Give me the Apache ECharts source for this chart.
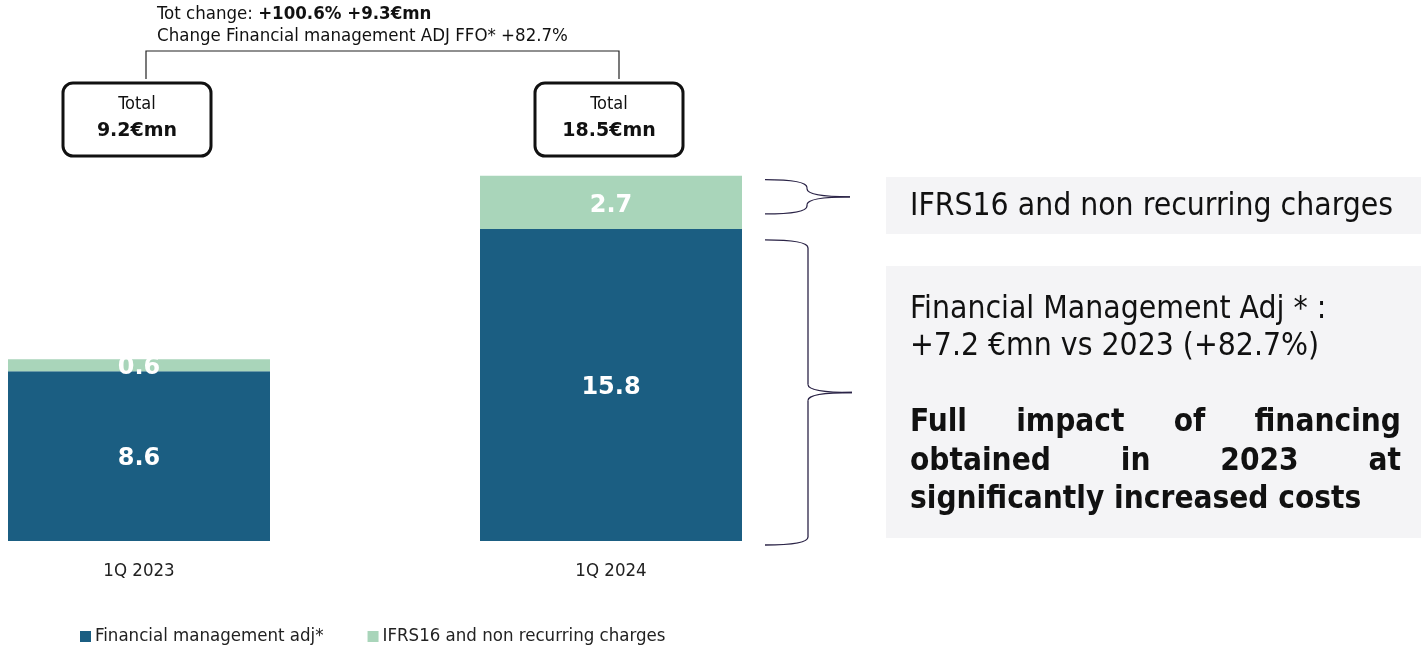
<!DOCTYPE html>
<html>
<head>
<meta charset="utf-8">
<script src="https://cdn.jsdelivr.net/npm/echarts@6/dist/echarts.min.js"></script>
<style>
  html, body { margin: 0; padding: 0; background: #ffffff; }
  #chart { width: 1421px; height: 645px; }
</style>
</head>
<body>
<div id="chart"></div>
<script>
// Quarterly financial charges, €mn
const categories = ['1Q 2023', '1Q 2024'];
const seriesNames = ['Financial management adj*', 'IFRS16 and non recurring charges'];
const finMgmtAdj = [8.6, 15.8];
const ifrs16Charges = [0.6, 2.7];

// Header and commentary text
const headerLine1 = ['Tot change: ', '+100.6% +9.3€mn'];
const headerLine2 = 'Change Financial management ADJ FFO* +82.7%';
const ifrsNote = 'IFRS16 and non recurring charges';
const finNote = ['Financial Management Adj * :', '+7.2 €mn vs 2023 (+82.7%)'];
const finNoteBold = ['Full impact of financing', 'obtained in 2023 at', 'significantly increased costs'];

const COLORS = ['#1b5e82', '#a9d5ba'];
const FONT = "'DejaVu Sans Condensed', 'DejaVu Sans', sans-serif";
const FONT_BOLD = "'DejaVu Sans', sans-serif";

const chart = echarts.init(document.getElementById('chart'), null, { renderer: 'canvas' });

const barLabel = {
  show: true,
  position: 'inside',
  offset: [0, 3],
  color: '#ffffff',
  fontFamily: FONT_BOLD,
  fontWeight: 'bold',
  fontSize: 24,
  formatter: p => p.value.toFixed(1)
};

chart.setOption({
  animation: false,
  backgroundColor: '#ffffff',
  grid: { left: 139, right: 810, top: 146, bottom: 104 },
  legend: {
    left: 75, top: 622,
    itemWidth: 11, itemHeight: 11, itemGap: 44,
    icon: 'rect',
    textStyle: { fontFamily: FONT, fontSize: 18.5, color: '#222222', padding: [0, 0, 0, -1] },
    data: seriesNames
  },
  xAxis: {
    type: 'category',
    data: categories,
    boundaryGap: false,
    axisLine: { show: false },
    axisTick: { show: false },
    axisLabel: { fontFamily: FONT, fontSize: 18.5, color: '#222222', margin: 21 }
  },
  yAxis: { type: 'value', min: 0, max: 20, show: false, splitLine: { show: false } },
  series: [
    { name: seriesNames[0], type: 'bar', stack: 'total', barWidth: 262, clip: false,
      itemStyle: { color: COLORS[0] }, label: barLabel, data: finMgmtAdj },
    { name: seriesNames[1], type: 'bar', stack: 'total', barWidth: 262, clip: false,
      itemStyle: { color: COLORS[1] }, label: barLabel, data: ifrs16Charges }
  ]
});

// Annotation layer positioned from the axes
const xs = categories.map(c => chart.convertToPixel({ xAxisIndex: 0 }, c));
const yOf = v => chart.convertToPixel({ yAxisIndex: 0 }, v);
const totals = finMgmtAdj.map((v, i) => +(v + ifrs16Charges[i]).toFixed(1));
const half = 131;

const measureCtx = document.createElement('canvas').getContext('2d');
function textWidth(str, font) { measureCtx.font = font; return measureCtx.measureText(str).width; }

const g = [];
const ink = '#111111';

// header
g.push({
  type: 'text', x: xs[0] + 18, y: 14,
  style: {
    text: '{n|' + headerLine1[0] + '}{b|' + headerLine1[1] + '}',
    verticalAlign: 'middle',
    rich: {
      n: { fontFamily: FONT, fontSize: 18.5, fill: ink },
      b: { fontFamily: FONT, fontSize: 18.5, fontWeight: 'bold', fill: ink }
    }
  }
});
g.push({
  type: 'text', x: xs[0] + 18, y: 36,
  style: { text: headerLine2, fontFamily: FONT, fontSize: 18.5, fill: ink, verticalAlign: 'middle' }
});

// connector between the two totals
const boxTop = 83, boxH = 73, boxW = 148;
g.push({
  type: 'polyline',
  shape: { points: [[xs[0] + 7, boxTop - 4], [xs[0] + 7, 51], [xs[1] + 8, 51], [xs[1] + 8, boxTop - 4]] },
  style: { stroke: '#222222', lineWidth: 1.2, fill: null }
});

// total boxes
totals.forEach((t, i) => {
  const cx = xs[i] - 2;
  g.push({
    type: 'rect',
    shape: { x: cx - boxW / 2, y: boxTop, width: boxW, height: boxH, r: 10 },
    style: { fill: '#ffffff', stroke: ink, lineWidth: 3 }
  });
  g.push({
    type: 'text', x: cx, y: boxTop + 21,
    style: { text: 'Total', fontFamily: FONT, fontSize: 18, fill: ink, align: 'center', verticalAlign: 'middle' }
  });
  g.push({
    type: 'text', x: cx, y: boxTop + 48,
    style: { text: t.toFixed(1) + '€mn', fontFamily: FONT_BOLD, fontWeight: 'bold', fontSize: 19, fill: ink, align: 'center', verticalAlign: 'middle' }
  });
});

// curly braces beside the 1Q 2024 bar, built from lines and quadratic curves
function brace(x0, x1, x2, yT, yB) {
  const ym = (yT + yB) / 2;
  const r = Math.min(8, (yB - yT) / 4);
  const st = { stroke: '#2b2447', lineWidth: 1.3, fill: null };
  const curve = (ax, ay, cx, cy, bx, by) => ({
    type: 'bezierCurve', shape: { x1: ax, y1: ay, cpx1: cx, cpy1: cy, x2: bx, y2: by }, style: st
  });
  const line = (ax, ay, bx, by) => ({ type: 'line', shape: { x1: ax, y1: ay, x2: bx, y2: by }, style: st });
  return [
    curve(x0, yT, x1, yT, x1, yT + r),
    line(x1, yT + r, x1, ym - r),
    curve(x1, ym - r, x1, ym, x2, ym),
    curve(x2, ym, x1, ym, x1, ym + r),
    line(x1, ym + r, x1, yB - r),
    curve(x1, yB - r, x1, yB, x0, yB)
  ];
}
const bx = xs[1] + half;
const yTot = yOf(totals[1]), yMid = yOf(finMgmtAdj[1]), yBase = yOf(0);
g.push(...brace(bx + 23, bx + 65, bx + 108, yTot + 4, yMid - 15));
g.push(...brace(bx + 23, bx + 66, bx + 110, yMid + 11, yBase + 4));

// commentary panels
const panelX = 886, textX = 910, textR = 1401;
g.push({ type: 'rect', shape: { x: panelX, y: 177, width: 1421 - panelX, height: 57 }, style: { fill: '#f4f4f6' } });
g.push({ type: 'rect', shape: { x: panelX, y: 266, width: 1421 - panelX, height: 272 }, style: { fill: '#f4f4f6' } });

const noteSize = 31.6;
g.push({
  type: 'text', x: textX, y: 207,
  style: { text: ifrsNote, fontFamily: FONT, fontSize: noteSize, fill: ink, verticalAlign: 'middle' }
});
[310, 347].forEach((y, i) => g.push({
  type: 'text', x: textX, y: y,
  style: { text: finNote[i], fontFamily: FONT, fontSize: noteSize, fill: ink, verticalAlign: 'middle' }
}));

// bold block, justified except the last line
const boldSize = 31.3;
const boldFont = 'bold ' + boldSize + 'px ' + FONT;
[423, 462, 500].forEach((y, i) => {
  const line = finNoteBold[i];
  if (i === finNoteBold.length - 1) {
    g.push({ type: 'text', x: textX, y: y,
      style: { text: line, fontFamily: FONT, fontWeight: 'bold', fontSize: boldSize, fill: ink, verticalAlign: 'middle' } });
    return;
  }
  const words = line.split(' ');
  const widths = words.map(w => textWidth(w, boldFont));
  const sum = widths.reduce((a, b) => a + b, 0);
  const gap = (textR - textX - sum) / (words.length - 1);
  let x = textX;
  words.forEach((w, k) => {
    g.push({ type: 'text', x: x, y: y,
      style: { text: w, fontFamily: FONT, fontWeight: 'bold', fontSize: boldSize, fill: ink, verticalAlign: 'middle' } });
    x += widths[k] + gap;
  });
});

chart.setOption({ graphic: { elements: g } });
</script>
</body>
</html>
